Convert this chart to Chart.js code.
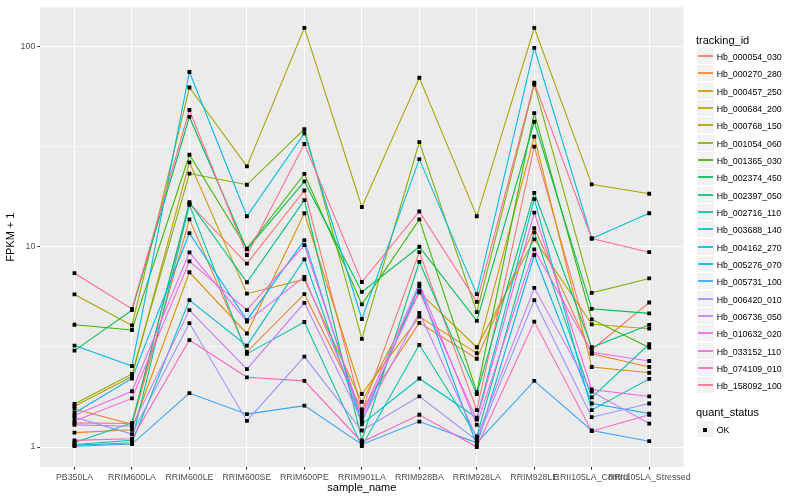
<!DOCTYPE html>
<html>
<head>
<meta charset="utf-8">
<script src="https://cdn.jsdelivr.net/npm/chart.js@4.4.1/dist/chart.umd.min.js"></script>
<style>
    body { margin: 0; background: #fff; }
    #wrap { position: relative; width: 800px; height: 500px; font-family: "Liberation Sans", Arial, sans-serif; color: #000; }
    #legend div { position: absolute; white-space: nowrap; }
    .ttl { font-size: 11px; line-height: 13px; }
    .lbl { font-size: 8.8px; line-height: 10px; }
    .key { width: 17px; height: 17px; background: #F2F2F2; box-sizing: border-box; border-bottom: 1px solid #fff; }
</style>
</head>
<body>
<div id="wrap">
    <canvas id="chart" width="800" height="500"></canvas>
    <div id="legend"></div>
</div>
<script>
const categories = ['PB350LA', 'RRIM600LA', 'RRIM600LE', 'RRIM600SE', 'RRIM600PE', 'RRIM901LA',
    'RRIM928BA', 'RRIM928LA', 'RRIM928LE', 'RRII105LA_Control', 'RRII105LA_Stressed'];

const trackingIds = ['Hb_000054_030', 'Hb_000270_280', 'Hb_000457_250', 'Hb_000684_200', 'Hb_000768_150',
    'Hb_001054_060', 'Hb_001365_030', 'Hb_002374_450', 'Hb_002397_050', 'Hb_002716_110',
    'Hb_003688_140', 'Hb_004162_270', 'Hb_005276_070', 'Hb_005731_100', 'Hb_006420_010',
    'Hb_006736_050', 'Hb_010632_020', 'Hb_033152_110', 'Hb_074109_010', 'Hb_158092_100'];

// ggplot default hue palette, 20 levels
const seriesColors = ['#F8766D', '#EA8331', '#D89000', '#C09B00', '#A3A500', '#7CAE00', '#39B600', '#00BB4E',
    '#00BF7D', '#00C1A3', '#00BFC4', '#00BAE0', '#00B0F6', '#35A2FF', '#9590FF', '#C77CFF',
    '#E76BF3', '#FA62DB', '#FF62BC', '#FF6C91'];

// FPKM + 1, one value per sample
const hb_000054_030 = [1.32, 1.31, 16.4, 8.24, 19.1, 1.51, 9.4, 1.53, 31.6, 3.06, 5.27];
const hb_000270_280 = [1.55, 1.30, 13.7, 2.99, 5.80, 1.54, 4.17, 2.76, 12.4, 2.92, 2.51];
const hb_000457_250 = [1.18, 1.22, 7.46, 3.69, 14.7, 1.84, 4.48, 2.94, 35.5, 2.51, 2.35];
const hb_000684_200 = [1.60, 2.25, 26.4, 5.83, 6.87, 1.68, 5.92, 3.15, 10.9, 4.10, 3.90];
const hb_000768_150 = [5.78, 4.05, 62.4, 25.2, 124, 15.8, 69.8, 14.2, 124, 20.5, 18.4];
const hb_001054_060 = [1.64, 2.32, 23.2, 20.4, 38.7, 3.47, 33.3, 4.72, 64.6, 5.89, 6.95];
const hb_001365_030 = [4.08, 3.84, 28.8, 9.8, 23.1, 5.16, 13.7, 1.88, 46.5, 4.34, 3.14];
const hb_002374_450 = [3.03, 4.83, 44.5, 9.7, 21.2, 5.95, 10.0, 4.27, 42.1, 4.90, 4.65];
const hb_002397_050 = [1.055, 1.32, 16.7, 6.65, 17.1, 1.08, 8.41, 1.84, 18.6, 3.15, 4.07];
const hb_002716_110 = [1.03, 1.08, 16.2, 2.92, 4.21, 1.01, 3.24, 1.13, 11.8, 1.77, 3.26];
const hb_003688_140 = [1.02, 1.05, 5.42, 3.21, 8.66, 1.30, 2.20, 1.40, 17.3, 1.53, 2.19];
const hb_004162_270 = [3.21, 2.54, 74.6, 14.2, 36.9, 4.36, 27.4, 5.8, 98.5, 11.0, 14.7];
const hb_005276_070 = [1.48, 2.20, 11.7, 4.30, 10.8, 1.33, 6.35, 1.02, 9.1, 1.65, 1.47];
const hb_005731_100 = [1.01, 1.035, 1.86, 1.46, 1.61, 1.03, 1.34, 1.05, 2.14, 1.21, 1.07];
const hb_006420_010 = [1.41, 1.16, 4.16, 1.35, 2.83, 1.21, 1.79, 1.08, 5.42, 1.41, 1.65];
const hb_006736_050 = [1.29, 1.27, 4.83, 2.45, 5.25, 1.36, 4.68, 1.11, 6.23, 1.89, 1.31];
const hb_010632_020 = [1.44, 1.90, 9.38, 4.23, 7.08, 1.45, 6.54, 1.29, 9.7, 2.97, 2.69];
const hb_033152_110 = [1.35, 1.75, 8.46, 4.83, 10.2, 1.41, 6.0, 1.37, 14.8, 1.94, 1.79];
const hb_074109_010 = [1.08, 1.10, 3.42, 2.23, 2.14, 1.06, 1.45, 1.00, 4.23, 1.20, 1.45];
const hb_158092_100 = [7.38, 4.89, 48.2, 9.1, 32.6, 6.67, 15.0, 5.31, 65.9, 11.0, 9.4];

const seriesValues = [hb_000054_030, hb_000270_280, hb_000457_250, hb_000684_200, hb_000768_150,
    hb_001054_060, hb_001365_030, hb_002374_450, hb_002397_050, hb_002716_110,
    hb_003688_140, hb_004162_270, hb_005276_070, hb_005731_100, hb_006420_010,
    hb_006736_050, hb_010632_020, hb_033152_110, hb_074109_010, hb_158092_100];

const yTickValues = [1, 10, 100];
const yTickLabels = ['1', '10', '100'];
const yMinorValues = [Math.sqrt(10), Math.sqrt(1000)];

Chart.defaults.font.family = '"Liberation Sans", Arial, sans-serif';

// grey panel behind the grid
const panelBackground = {
    id: 'panelBackground',
    beforeDraw(chart) {
        const { ctx, chartArea: a } = chart;
        ctx.save();
        ctx.fillStyle = '#EBEBEB';
        ctx.fillRect(a.left, a.top, a.right - a.left, a.bottom - a.top);
        ctx.restore();
    }
};

const lineSets = seriesValues.map((vals, i) => ({
    label: trackingIds[i],
    data: vals.map((v, j) => ({ x: j, y: v })),
    borderColor: seriesColors[i],
    borderWidth: 1.07,
    pointRadius: 0,
    tension: 0,
    fill: false,
    order: seriesValues.length - i + 1
}));

// all points in black, drawn on top of every line
const pointSet = {
    label: 'OK',
    data: seriesValues.flatMap(vals => vals.map((v, j) => ({ x: j, y: v }))),
    showLine: false,
    pointStyle: 'rect',
    pointRadius: 2.7,
    pointBackgroundColor: '#000',
    pointBorderColor: '#000',
    pointBorderWidth: 0,
    order: 0
};

new Chart(document.getElementById('chart'), {
    type: 'line',
    data: { datasets: [...lineSets, pointSet] },
    plugins: [panelBackground],
    options: {
        responsive: false,
        animation: false,
        layout: { padding: { top: 5, right: 116.3, left: 0, bottom: 0 } },
        plugins: {
            legend: { display: false },
            tooltip: { enabled: false }
        },
        scales: {
            x: {
                type: 'linear',
                min: -0.6,
                max: 10.6,
                afterBuildTicks: (scale) => {
                    scale.ticks = categories.map((c, i) => ({ value: i }));
                },
                afterFit: (scale) => { scale.height = 33; },
                ticks: {
                    callback: (v) => categories[v],
                    autoSkip: false,
                    maxRotation: 0,
                    color: '#4D4D4D',
                    font: { size: 8.8 },
                    padding: 3
                },
                grid: {
                    color: '#FFFFFF',
                    lineWidth: 1.07,
                    tickLength: 2.7,
                    tickColor: '#333333',
                    tickWidth: 1.07
                },
                border: { display: false },
                title: {
                    display: true,
                    text: 'sample_name',
                    color: '#000',
                    font: { size: 11 },
                    padding: { bottom: 5 }
                }
            },
            y: {
                type: 'logarithmic',
                min: 0.795,
                max: 157,
                afterBuildTicks: (scale) => {
                    scale.ticks = [...yTickValues, ...yMinorValues]
                        .sort((a, b) => a - b)
                        .map(v => ({ value: v }));
                },
                afterFit: (scale) => { scale.width = 40; },
                ticks: {
                    callback: (v) => {
                        const i = yTickValues.indexOf(v);
                        return i >= 0 ? yTickLabels[i] : '';
                    },
                    color: '#4D4D4D',
                    font: { size: 8.8 },
                    padding: 2
                },
                grid: {
                    color: '#FFFFFF',
                    lineWidth: (ctx) => yTickValues.includes(ctx.tick && ctx.tick.value) ? 1.07 : 0.53,
                    tickLength: 2.7,
                    tickColor: (ctx) => yTickValues.includes(ctx.tick && ctx.tick.value) ? '#333333' : 'rgba(0,0,0,0)',
                    tickWidth: 1.07
                },
                border: { display: false },
                title: {
                    display: true,
                    text: 'FPKM + 1',
                    color: '#000',
                    font: { size: 11 },
                    padding: { top: 4 }
                }
            }
        }
    }
});

// legend to the right, ggplot style
function buildLegend() {
    const legend = document.getElementById('legend');
    const keyLeft = 697;
    const step = 17.33;
    const add = (cls, left, top, text) => {
        const d = document.createElement('div');
        d.className = cls;
        d.style.left = left + 'px';
        d.style.top = top + 'px';
        if (text) d.textContent = text;
        legend.appendChild(d);
        return d;
    };

    add('ttl', 696, 34, 'tracking_id');
    trackingIds.forEach((id, i) => {
        const top = Math.round(48 + i * step);
        const key = add('key', keyLeft, top);
        const line = document.createElement('div');
        line.style.left = '1px';
        line.style.width = '15px';
        line.style.top = '7px';
        line.style.height = '2px';
        line.style.background = seriesColors[i];
        line.style.opacity = '0.85';
        key.appendChild(line);
        add('lbl', 716.7, top + 3.5, id);
    });

    add('ttl', 696, 406, 'quant_status');
    const okKey = add('key', keyLeft, 421);
    const dot = document.createElement('div');
    dot.style.left = '6px';
    dot.style.top = '6.5px';
    dot.style.width = '4px';
    dot.style.height = '4px';
    dot.style.background = '#000';
    okKey.appendChild(dot);
    add('lbl', 716.7, 424.5, 'OK');
}
buildLegend();
</script>
</body>
</html>
